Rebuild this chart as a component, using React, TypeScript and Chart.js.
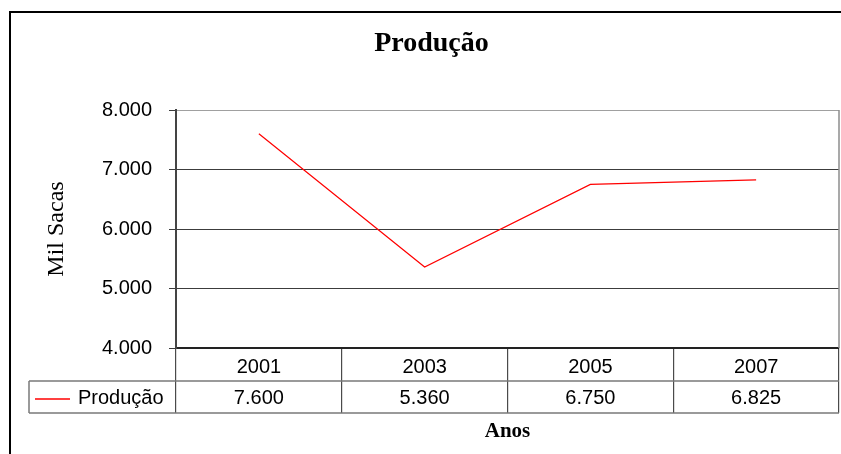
import { useEffect, useRef } from 'react';
import { Chart, registerables } from 'chart.js';

Chart.register(...registerables);

const chartTitle = 'Produção';
const seriesName = 'Produção';
const yAxisTitle = 'Mil Sacas';
const xAxisTitle = 'Anos';
const categories = ['2001', '2003', '2005', '2007'];
const values = [7600, 5360, 6750, 6825];
const yMin = 4000;
const yMax = 8000;
const yStep = 1000;

const SANS = '"Liberation Sans", Arial, sans-serif';
const SERIF = '"Liberation Serif", "Times New Roman", serif';

function fmt(v: number): string {
  return String(Math.round(v)).replace(/\B(?=(\d{3})+(?!\d))/g, '.');
}

const framePlugin = {
  id: 'outerFrame',
  beforeDraw(chart: any) {
    const { ctx, width, height } = chart;
    ctx.save();
    ctx.fillStyle = '#ffffff';
    ctx.fillRect(0, 0, width, height);
    ctx.strokeStyle = '#000000';
    ctx.lineWidth = 2;
    ctx.beginPath();
    ctx.moveTo(10, height + 5);
    ctx.lineTo(10, 12);
    ctx.lineTo(width + 5, 12);
    ctx.stroke();
    ctx.restore();
  },
};

const tablePlugin = {
  id: 'dataTable',
  afterDraw(chart: any) {
    const { ctx, chartArea, scales } = chart;
    const x = scales.x;
    const top = chartArea.bottom;
    const r1 = top + 33;
    const r2 = top + 65;
    const legendLeft = 29;
    const mid = (r1 + r2) / 2;
    ctx.save();
    // plot right border
    ctx.strokeStyle = '#8c8c8c';
    ctx.lineWidth = 1.5;
    ctx.beginPath();
    ctx.moveTo(chartArea.right, chartArea.top);
    ctx.lineTo(chartArea.right, chartArea.bottom);
    ctx.stroke();
    // table rows
    ctx.strokeStyle = '#7a7a7a';
    ctx.lineWidth = 1.5;
    ctx.beginPath();
    ctx.moveTo(legendLeft, r1);
    ctx.lineTo(chartArea.right, r1);
    ctx.moveTo(legendLeft, r2);
    ctx.lineTo(chartArea.right, r2);
    ctx.moveTo(legendLeft, r1);
    ctx.lineTo(legendLeft, r2);
    ctx.stroke();
    // legend key
    const ds = chart.data.datasets[0];
    ctx.strokeStyle = ds.borderColor;
    ctx.lineWidth = 1.5;
    ctx.beginPath();
    ctx.moveTo(legendLeft + 6, mid + 2);
    ctx.lineTo(legendLeft + 41, mid + 2);
    ctx.stroke();
    ctx.fillStyle = '#000000';
    ctx.font = `20px ${SANS}`;
    ctx.textBaseline = 'middle';
    ctx.textAlign = 'left';
    ctx.fillText(ds.label, legendLeft + 49, mid + 1);
    ctx.textAlign = 'center';
    ds.data.forEach((v: number, i: number) => {
      ctx.fillText(fmt(v), x.getPixelForValue(i), mid + 1);
    });
    ctx.restore();
  },
};

export default function App() {
  const ref = useRef<HTMLCanvasElement | null>(null);

  useEffect(() => {
    document.body.style.margin = '0';
    const canvas = ref.current;
    if (!canvas) return;
    const chart = new Chart(canvas, {
      type: 'line',
      data: {
        labels: categories,
        datasets: [
          {
            label: seriesName,
            data: values,
            borderColor: '#ff0000',
            backgroundColor: '#ff0000',
            borderWidth: 1.2,
            pointRadius: 0,
            tension: 0,
            fill: false,
          },
        ],
      },
      options: {
        animation: false,
        responsive: true,
        maintainAspectRatio: false,
        layout: { padding: { left: 24, right: 2, top: 0, bottom: 0 } },
        plugins: {
          legend: { display: false },
          tooltip: { enabled: false },
          title: {
            display: true,
            text: chartTitle,
            color: '#000000',
            font: { family: SERIF, size: 28, weight: 'bold' },
            padding: { top: 26.7, bottom: 49.7 },
          },
        },
        scales: {
          x: {
            type: 'category',
            offset: true,
            afterFit(scale: any) {
              scale.height = 106;
            },
            grid: {
              offset: true,
              drawOnChartArea: false,
              drawTicks: true,
              tickLength: 65,
              color: '#4a4a4a',
              lineWidth: 1.2,
            },
            border: { display: true, color: '#222222', width: 2 },
            ticks: {
              color: '#000000',
              font: { family: SANS, size: 20 },
              padding: -57.5,
              maxRotation: 0,
              autoSkip: false,
            },
            title: {
              display: true,
              text: xAxisTitle,
              color: '#000000',
              font: { family: SERIF, size: 21, weight: 'bold' },
              padding: { top: 0, bottom: 10 },
            },
          },
          y: {
            min: yMin,
            max: yMax,
            afterFit(scale: any) {
              scale.width = 152;
            },
            ticks: {
              stepSize: yStep,
              color: '#000000',
              font: { family: SANS, size: 20 },
              padding: 17,
              callback: (v: any) => fmt(Number(v)),
            },
            grid: {
              drawTicks: true,
              tickLength: 7,
              color: (c: any) => (c.tick && c.tick.value === yMax ? '#a0a0a0' : '#3c3c3c'),
              tickColor: '#3c3c3c',
              lineWidth: 1,
            },
            border: { display: true, color: '#444444', width: 2 },
            title: {
              display: true,
              text: yAxisTitle,
              color: '#000000',
              font: { family: SERIF, size: 24 },
              padding: { top: 18.5, bottom: 0 },
            },
          },
        },
      },
      plugins: [framePlugin, tablePlugin],
    } as any);
    return () => chart.destroy();
  }, []);

  return (
    <div style={{ position: 'fixed', left: 0, top: 0, width: 841, height: 454 }}>
      <canvas ref={ref} width={841} height={454} />
    </div>
  );
}
